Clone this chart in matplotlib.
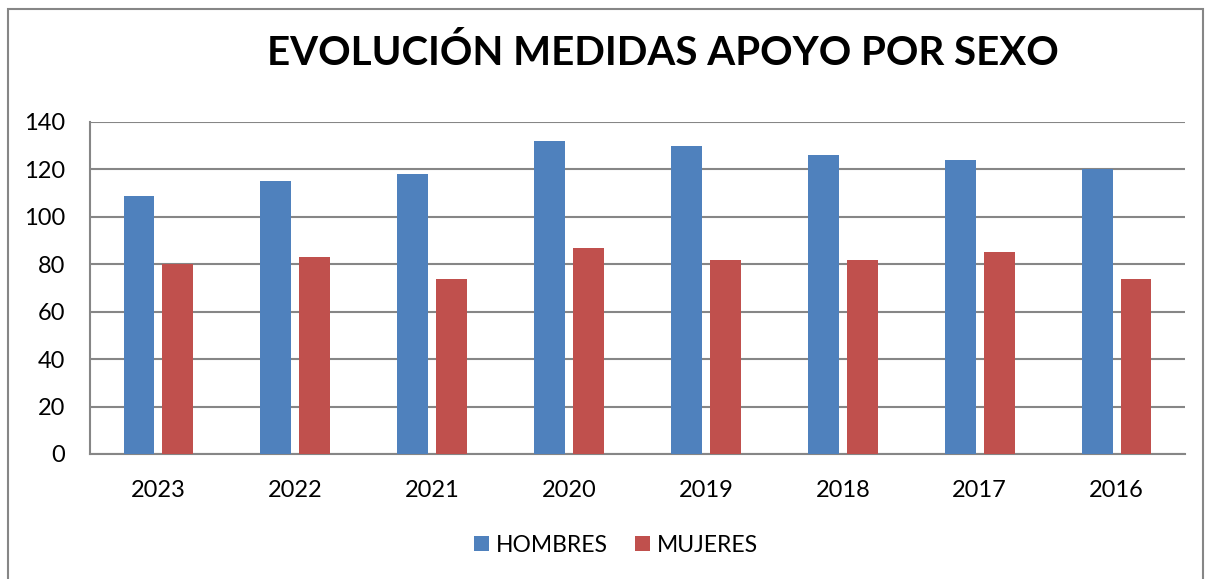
import numpy as np
import matplotlib.pyplot as plt
from matplotlib.patches import Rectangle

# Chart data
years = ['2023', '2022', '2021', '2020', '2019', '2018', '2017', '2016']
hombres = [109, 115, 118, 132, 130, 126, 124, 120]
mujeres = [80, 83, 74, 87, 82, 82, 85, 74]

W, H = 1212, 579
fig = plt.figure(figsize=(W / 100, H / 100), dpi=100)
plt.rcParams['font.family'] = ['Lato', 'DejaVu Sans']

# Axes placed in pixel terms
left, right, top, bottom = 90, 1185, 122, 454
ax = fig.add_axes([left / W, 1 - bottom / H, (right - left) / W, (bottom - top) / H])

x = np.arange(len(years))
bw = 0.226
off = 0.142
ax.bar(x - off, hombres, bw, color='#4F81BD', label='HOMBRES', zorder=3)
ax.bar(x + off, mujeres, bw, color='#C0504D', label='MUJERES', zorder=3)

ax.set_xlim(-0.5, len(years) - 0.5)
ax.set_ylim(0, 140)
ax.set_yticks(range(0, 141, 20))
ax.set_xticks(x)
ax.set_xticklabels(years)
ax.tick_params(axis='both', length=0, labelsize=17, colors='black')
ax.tick_params(axis='y', pad=18)
ax.tick_params(axis='x', pad=19)
ax.grid(axis='y', color='#868686', linewidth=1.5, zorder=0)

for s in ['top', 'right']:
    ax.spines[s].set_visible(False)
for s in ['left', 'bottom']:
    ax.spines[s].set_color('#868686')
    ax.spines[s].set_linewidth(1.5)

fig.text(0.5 * (265 + 1060) / W, 1 - 53 / H, 'EVOLUCIÓN MEDIDAS APOYO POR SEXO',
         ha='center', va='center', fontsize=29, fontweight='bold')

fig.legend(loc='center', bbox_to_anchor=(616 / W, 1 - 545 / H), ncol=2, frameon=False,
           fontsize=16.5, handlelength=0.65, handleheight=0.65, handletextpad=0.3,
           columnspacing=1.2)

# outer chart border
fig.patches.append(Rectangle((8 / W, -0.01), (1203 - 8) / W, 1 - 9 / H + 0.01,
                             transform=fig.transFigure, fill=False,
                             edgecolor='#868686', linewidth=1.5))

fig.savefig('out.png', dpi=100)
